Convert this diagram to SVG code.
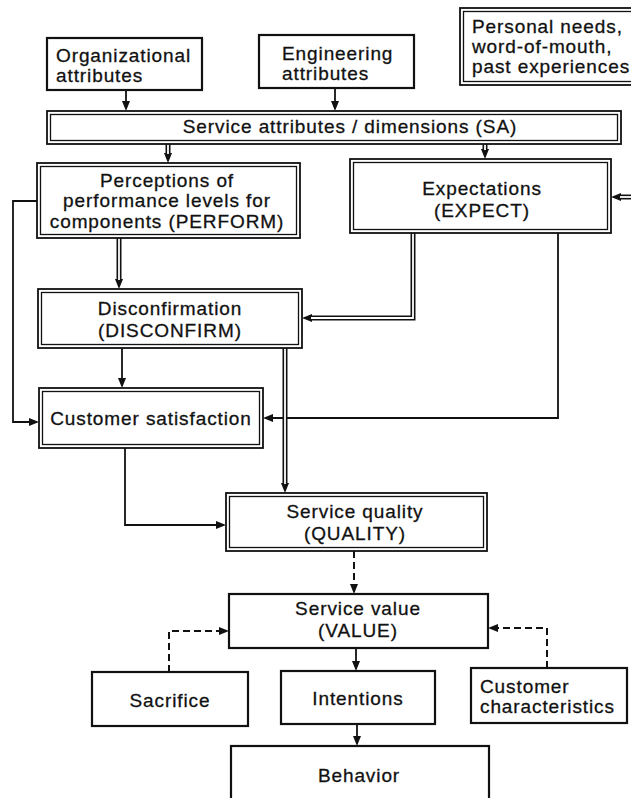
<svg xmlns="http://www.w3.org/2000/svg" width="631" height="798" viewBox="0 0 631 798">
  <style>
    text { font-family: "Liberation Sans", Arial, sans-serif; font-size: 19px; letter-spacing: 0.9px; fill: #111; stroke: #111; stroke-width: 0.3; }
    .c { text-anchor: middle; }
    .box { fill: #fff; stroke: #111; stroke-width: 2.2; }
    .outer { fill: #fff; stroke: #111; stroke-width: 1.8; }
    .inner { fill: none; stroke: #111; stroke-width: 1.3; }
    .line { fill: none; stroke: #111; stroke-width: 1.8; }
    .dash { fill: none; stroke: #111; stroke-width: 2; stroke-dasharray: 7 4; }
    .dbl { fill: none; stroke: #111; stroke-width: 5; }
    .dbl-gap { fill: none; stroke: #fff; stroke-width: 1.8; }
  </style>
  <defs>
    <marker id="arrow" markerUnits="userSpaceOnUse" viewBox="0 0 10 8" markerWidth="10" markerHeight="8" refX="1" refY="4" orient="auto">
      <path d="M0,0 L10,4 L0,8 z" fill="#111"/>
    </marker>
  </defs>
  <rect width="631" height="798" fill="#fff"/>

  <!-- connectors -->
  <g id="connectors">
    <path class="line" d="M126,90 V102" marker-end="url(#arrow)"/>
    <path class="line" d="M335,88 V102" marker-end="url(#arrow)"/>
    <path class="dbl" d="M168,144 V154" marker-end="url(#arrow)"/>
    <path class="dbl-gap" d="M168,144 V154"/>
    <path class="dbl" d="M485,144 V150" marker-end="url(#arrow)"/>
    <path class="dbl-gap" d="M485,144 V150"/>
    <path class="dbl" d="M635,197 H620" marker-end="url(#arrow)"/>
    <path class="dbl-gap" d="M635,197 H620"/>
    <path class="dbl" d="M119,238 V280" marker-end="url(#arrow)"/>
    <path class="dbl-gap" d="M119,238 V280"/>
    <path class="dbl" d="M413,233 V318 H311" marker-end="url(#arrow)"/>
    <path class="dbl-gap" d="M413,233 V318 H311"/>
    <path class="line" d="M37,201 H13 V422 H30" marker-end="url(#arrow)"/>
    <path class="line" d="M122,348 V379" marker-end="url(#arrow)"/>
    <path class="line" d="M558,233 V418 H272" marker-end="url(#arrow)"/>
    <path class="dbl" d="M285,348 V484" marker-end="url(#arrow)"/>
    <path class="dbl-gap" d="M285,348 V484"/>
    <path class="line" d="M125,448 V525 H217" marker-end="url(#arrow)"/>
    <path class="dash" d="M354,551 V585" marker-end="url(#arrow)"/>
    <path class="dash" d="M169,672 V631 H220" marker-end="url(#arrow)"/>
    <path class="dash" d="M547,668 V628 H497" marker-end="url(#arrow)"/>
    <path class="line" d="M356,648 V662" marker-end="url(#arrow)"/>
    <path class="line" d="M357,724 V737" marker-end="url(#arrow)"/>
  </g>

  <!-- source attributes -->
  <g id="org-attributes">
    <rect class="box" x="47" y="38" width="155" height="52"/>
    <text x="56" y="62">Organizational</text>
    <text x="56" y="82">attributes</text>
  </g>
  <g id="eng-attributes">
    <rect class="box" x="259" y="35" width="155" height="53"/>
    <text x="282" y="60">Engineering</text>
    <text x="282" y="80">attributes</text>
  </g>
  <g id="personal-needs">
    <rect class="outer" x="460" y="8" width="180" height="77"/>
    <rect class="inner" x="463.5" y="11.5" width="180" height="70"/>
    <text x="472" y="33">Personal needs,</text>
    <text x="472" y="53">word-of-mouth,</text>
    <text x="472" y="73">past experiences</text>
  </g>

  <g id="service-attributes">
    <rect class="outer" x="47" y="111" width="574" height="33"/>
    <rect class="inner" x="50.5" y="114.5" width="567" height="26"/>
    <text class="c" x="350" y="133">Service attributes / dimensions (SA)</text>
  </g>

  <g id="perform">
    <rect class="outer" x="37" y="163" width="263" height="75"/>
    <rect class="inner" x="40.5" y="166.5" width="256" height="68"/>
    <text class="c" x="167" y="187">Perceptions of</text>
    <text class="c" x="167" y="207">performance levels for</text>
    <text class="c" x="167" y="228">components (PERFORM)</text>
  </g>

  <g id="expect">
    <rect class="outer" x="350" y="159" width="261" height="74"/>
    <rect class="inner" x="353.5" y="162.5" width="254" height="67"/>
    <text class="c" x="482" y="195">Expectations</text>
    <text class="c" x="482" y="217">(EXPECT)</text>
  </g>

  <g id="disconfirm">
    <rect class="outer" x="38" y="289" width="264" height="59"/>
    <rect class="inner" x="41.5" y="292.5" width="257" height="52"/>
    <text class="c" x="170" y="315">Disconfirmation</text>
    <text class="c" x="170" y="337">(DISCONFIRM)</text>
  </g>

  <g id="satisfaction">
    <rect class="outer" x="39" y="388" width="224" height="60"/>
    <rect class="inner" x="42.5" y="391.5" width="217" height="53"/>
    <text class="c" x="151" y="425">Customer satisfaction</text>
  </g>

  <g id="quality">
    <rect class="outer" x="226" y="493" width="261" height="58"/>
    <rect class="inner" x="229.5" y="496.5" width="254" height="51"/>
    <text class="c" x="355" y="518">Service quality</text>
    <text class="c" x="355" y="540">(QUALITY)</text>
  </g>

  <g id="value">
    <rect class="box" x="229" y="594" width="259" height="54"/>
    <text class="c" x="358" y="615">Service value</text>
    <text class="c" x="358" y="637">(VALUE)</text>
  </g>

  <g id="sacrifice">
    <rect class="box" x="92" y="672" width="156" height="54"/>
    <text class="c" x="170" y="707">Sacrifice</text>
  </g>

  <g id="intentions">
    <rect class="box" x="281" y="671" width="154" height="53"/>
    <text class="c" x="358" y="705">Intentions</text>
  </g>

  <g id="customer-characteristics">
    <rect class="box" x="471" y="668" width="156" height="55"/>
    <text x="480" y="693">Customer</text>
    <text x="480" y="713">characteristics</text>
  </g>

  <g id="behavior">
    <rect class="box" x="231" y="746" width="258" height="80"/>
    <text class="c" x="359" y="782">Behavior</text>
  </g>
</svg>
